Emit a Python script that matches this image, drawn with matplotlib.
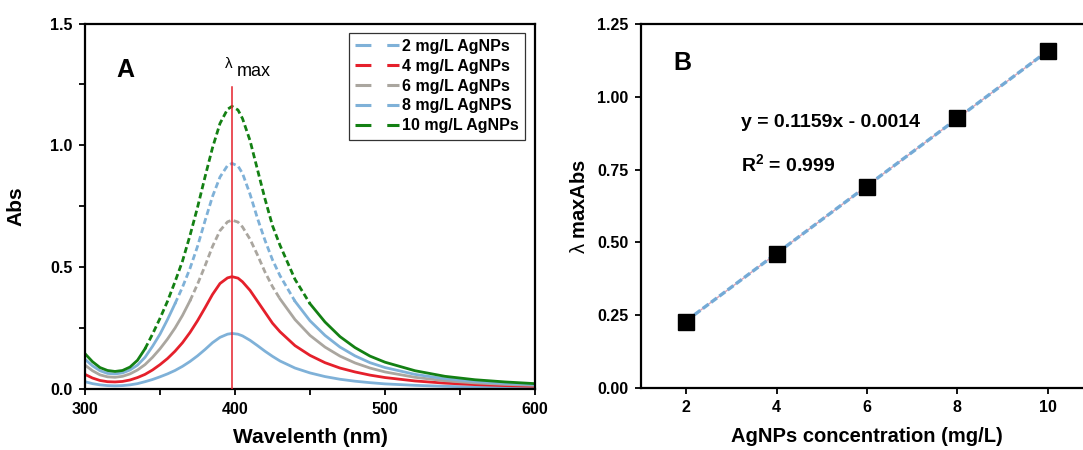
import numpy as np
import matplotlib
matplotlib.use("Agg")
from matplotlib import pyplot as plt
from matplotlib.ticker import MultipleLocator, FormatStrFormatter, NullFormatter
from matplotlib.lines import Line2D

plt.rcParams['font.family'] = ['Liberation Sans', 'DejaVu Sans']
plt.rcParams['mathtext.fontset'] = 'custom'
plt.rcParams['mathtext.rm'] = 'Liberation Sans'
plt.rcParams['mathtext.it'] = 'Liberation Sans'
plt.rcParams['mathtext.bf'] = 'Liberation Sans:bold'

# --- panel A: UV-vis spectra ---
wavelength = [300, 305, 310, 315, 320, 325, 330, 335, 340, 345, 350, 355, 360, 365,
              370, 375, 380, 385, 390, 395, 398, 402, 405, 410, 415, 420, 425, 430,
              440, 450, 460, 470, 480, 490, 500, 520, 540, 560, 580, 600]

abs_2 = [0.030, 0.022, 0.017, 0.014, 0.013, 0.014, 0.017, 0.022, 0.030, 0.039, 0.050,
         0.062, 0.076, 0.093, 0.113, 0.136, 0.162, 0.190, 0.212, 0.225, 0.228, 0.225,
         0.218, 0.200, 0.178, 0.155, 0.134, 0.115, 0.086, 0.066, 0.051, 0.040, 0.032,
         0.026, 0.021, 0.015, 0.011, 0.008, 0.006, 0.005]
abs_4 = [0.060, 0.045, 0.035, 0.030, 0.029, 0.031, 0.037, 0.047, 0.060, 0.078, 0.100,
         0.125, 0.155, 0.190, 0.232, 0.280, 0.333, 0.388, 0.433, 0.456, 0.461, 0.455,
         0.440, 0.405, 0.360, 0.315, 0.270, 0.235, 0.178, 0.138, 0.108, 0.086, 0.070,
         0.057, 0.047, 0.033, 0.024, 0.018, 0.014, 0.011]
abs_6 = [0.098, 0.075, 0.058, 0.050, 0.048, 0.052, 0.062, 0.078, 0.100, 0.130, 0.165,
         0.205, 0.250, 0.302, 0.362, 0.430, 0.505, 0.585, 0.650, 0.686, 0.693, 0.685,
         0.665, 0.615, 0.550, 0.480, 0.420, 0.370, 0.285, 0.220, 0.172, 0.135, 0.107,
         0.086, 0.070, 0.048, 0.034, 0.025, 0.019, 0.015]
abs_8 = [0.122, 0.095, 0.075, 0.064, 0.062, 0.066, 0.078, 0.098, 0.130, 0.175, 0.225,
         0.285, 0.350, 0.418, 0.495, 0.585, 0.690, 0.790, 0.870, 0.917, 0.926, 0.915,
         0.885, 0.800, 0.700, 0.610, 0.530, 0.465, 0.360, 0.280, 0.220, 0.172, 0.136,
         0.108, 0.088, 0.060, 0.042, 0.031, 0.023, 0.018]
abs_10 = [0.145, 0.112, 0.088, 0.076, 0.072, 0.076, 0.090, 0.118, 0.165, 0.225, 0.290,
          0.360, 0.440, 0.525, 0.630, 0.745, 0.870, 0.990, 1.090, 1.148, 1.160, 1.145,
          1.110, 1.020, 0.900, 0.780, 0.670, 0.590, 0.450, 0.350, 0.275, 0.215, 0.170,
          0.135, 0.110, 0.075, 0.052, 0.038, 0.029, 0.022]

labels_A = ['2 mg/L AgNPs', '4 mg/L AgNPs', '6 mg/L AgNPs', '8 mg/L AgNPS', '10 mg/L AgNPs']
colors_A = ['#7fb1d8', '#e5202b', '#aaa69f', '#7fb1d8', '#138013']
# wavelength range where each trace looks dashed in the original
dashed_range = [None, None, (370, 430), (360, 440), (340, 450)]
lambda_max = 398

# --- panel B: calibration ---
conc = [2, 4, 6, 8, 10]
abs_max = [0.228, 0.461, 0.690, 0.926, 1.158]
slope, intercept = 0.1159, -0.0014

fig = plt.figure(figsize=(10.83, 4.5), dpi=100)
ax1 = fig.add_axes([85 / 1083, 61 / 450, 450 / 1083, 365.5 / 450])
ax2 = fig.add_axes([641 / 1083, 62 / 450, 452 / 1083, 364 / 450])

wl = np.array(wavelength, dtype=float)
series = [abs_2, abs_4, abs_6, abs_8, abs_10]
for ys, c, rng in zip(series, colors_A, dashed_range):
    ys = np.array(ys, dtype=float)
    if rng is None:
        ax1.plot(wl, ys, color=c, lw=2.0)
        continue
    inside = (wl >= rng[0]) & (wl <= rng[1])
    solid = (wl <= rng[0]) | (wl >= rng[1])
    ax1.plot(wl, np.where(solid, ys, np.nan), color=c, lw=2.0)
    ax1.plot(wl, np.where(inside, ys, np.nan), color=c, lw=2.0, dashes=(2.2, 1.2))

ax1.plot([lambda_max, lambda_max], [0, 1.24], color='#e5202b', lw=1.1, zorder=5)
ax1.text(395.5, 1.335, 'λ', fontsize=11, ha='center', va='center')
ax1.text(401, 1.285, 'max', fontsize=13, ha='left', va='baseline')
ax1.text(321, 1.31, 'A', fontsize=18, fontweight='bold', va='center')

handles = [Line2D([], [], color=c, lw=2.2, dashes=(5.2, 5.2)) for c in colors_A]
leg = ax1.legend(handles, labels_A, loc='upper right', bbox_to_anchor=(0.995, 0.997),
                 prop={'weight': 'bold', 'size': 11.5}, handlelength=2.75,
                 handletextpad=0.15, labelspacing=0.3, borderpad=0.4,
                 fancybox=False, framealpha=1, edgecolor='#333333')
leg.get_frame().set_linewidth(0.9)

ax1.set_xlim(300, 600)
ax1.set_ylim(0, 1.5)
ax1.xaxis.set_major_locator(MultipleLocator(100))
ax1.xaxis.set_minor_locator(MultipleLocator(50))
ax1.yaxis.set_major_locator(MultipleLocator(0.5))
ax1.yaxis.set_minor_locator(MultipleLocator(0.25))
ax1.set_xlabel('Wavelenth (nm)', fontsize=15, fontweight='bold', labelpad=8)
ax1.set_ylabel('Abs', fontsize=15, fontweight='bold', labelpad=18)

# panel B
xfit = np.array([conc[0], conc[-1]], dtype=float)
ax2.plot(xfit, slope * xfit + intercept, color='#d9a3b4', lw=1.0, zorder=2)
ax2.plot(xfit, slope * xfit + intercept, color='#74aad6', lw=2.4, dashes=(2.2, 0.9), zorder=3)
ax2.plot(conc, abs_max, 's', color='black', ms=11.5, zorder=4)
ax2.text(3.22, 0.913, 'y = 0.1159x - 0.0014', fontsize=14, fontweight='bold', va='center')
ax2.text(3.22, 0.77, r'R$^\mathbf{2}$ = 0.999', fontsize=14, fontweight='bold', va='center')
ax2.text(1.72, 1.115, 'B', fontsize=18, fontweight='bold', va='center')

ax2.set_xlim(1, 11)
ax2.set_ylim(0, 1.25)
ax2.xaxis.set_major_locator(MultipleLocator(2))
ax2.yaxis.set_major_locator(MultipleLocator(0.25))
ax2.yaxis.set_major_formatter(FormatStrFormatter('%.2f'))
ax2.set_xlabel('AgNPs concentration (mg/L)', fontsize=14.5, fontweight='bold', labelpad=8)
ax2.set_ylabel(r'$\lambda$ maxAbs', fontsize=14.5, fontweight='bold', labelpad=6)

for ax in (ax1, ax2):
    for s in ax.spines.values():
        s.set_linewidth(1.6)
    ax.tick_params(which='both', direction='out', length=4, width=1.3,
                   labelsize=11.5, pad=5)
    for lab in ax.get_xticklabels() + ax.get_yticklabels():
        lab.set_fontweight('bold')
ax1.xaxis.set_minor_formatter(NullFormatter())

fig.savefig('out.png', dpi=100)
